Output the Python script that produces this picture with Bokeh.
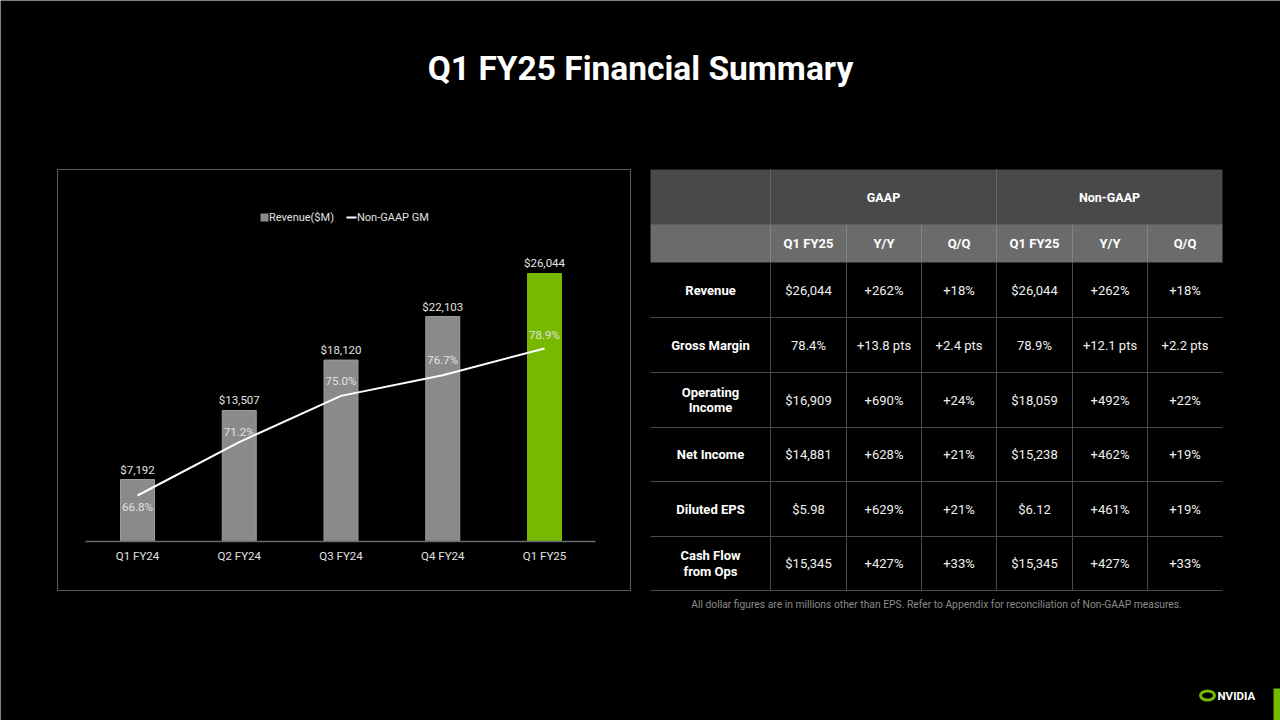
from bokeh.plotting import figure
from bokeh.models import Range1d
from bokeh.core.properties import value
from bokeh.embed import file_html
from bokeh.resources import INLINE

# ---------------- data ----------------
quarters = ["Q1 FY24", "Q2 FY24", "Q3 FY24", "Q4 FY24", "Q1 FY25"]
revenue = [7192, 13507, 18120, 22103, 26044]
non_gaap_gm = [66.8, 71.2, 75.0, 76.7, 78.9]

title = "Q1 FY25 Financial Summary"
legend_labels = ["Revenue($M)", "Non-GAAP GM"]

group_headers = ["GAAP", "Non-GAAP"]
sub_headers = ["Q1 FY25", "Y/Y", "Q/Q", "Q1 FY25", "Y/Y", "Q/Q"]
row_labels = ["Revenue", "Gross Margin", "Operating\nIncome", "Net Income", "Diluted EPS", "Cash Flow\nfrom Ops"]
gaap_value = ["$26,044", "78.4%", "$16,909", "$14,881", "$5.98", "$15,345"]
gaap_yy = ["+262%", "+13.8 pts", "+690%", "+628%", "+629%", "+427%"]
gaap_qq = ["+18%", "+2.4 pts", "+24%", "+21%", "+21%", "+33%"]
ngaap_value = ["$26,044", "78.9%", "$18,059", "$15,238", "$6.12", "$15,345"]
ngaap_yy = ["+262%", "+12.1 pts", "+492%", "+462%", "+461%", "+427%"]
ngaap_qq = ["+18%", "+2.2 pts", "+22%", "+19%", "+19%", "+33%"]
footnote = "All dollar figures are in millions other than EPS. Refer to Appendix for reconciliation of Non-GAAP measures."

# ---------------- styles ----------------
W, H = 1280, 720
FONT = value("Roboto")
GREEN = "#76b900"
BAR_GRAY = "#8a8a8a"
LABEL = "#e2e2e2"

p = figure(width=W, height=H, x_range=Range1d(0, W), y_range=Range1d(H, 0),
           output_backend="svg", toolbar_location=None, min_border=0,
           x_axis_type=None, y_axis_type=None)
p.background_fill_color = "black"
p.border_fill_color = "black"
p.outline_line_color = None
p.xgrid.visible = False
p.ygrid.visible = False

# title
p.text(x=[640], y=[68], text=[title], text_font=FONT, text_font_style="bold",
       text_font_size=value("33.5px"), text_color="white", text_align="center",
       text_baseline="middle")

# ---------------- chart panel ----------------
p.quad(left=[57], right=[630], top=[169], bottom=[590], fill_color=None,
       line_color="#5a5a5a", line_width=1)

# scales for the bar chart (pixel layout -> data ranges)
X0_PX, STEP_PX = 137, 101.75
ZERO_PX, PX_PER_UNIT = 557.6, 0.010928
AXIS_PX = 541
GM_REF, GM_REF_PX, PX_PER_PT = 66.8, 495, 12.149

p.extra_x_ranges = {"q": Range1d(-X0_PX / STEP_PX, (W - X0_PX) / STEP_PX)}
p.extra_y_ranges = {
    "rev": Range1d((ZERO_PX - H) / PX_PER_UNIT, ZERO_PX / PX_PER_UNIT),
    "gm": Range1d(GM_REF - (H - GM_REF_PX) / PX_PER_PT, GM_REF + GM_REF_PX / PX_PER_PT),
}
axis_floor = (ZERO_PX - AXIS_PX) / PX_PER_UNIT

xs = list(range(len(quarters)))
colors = [BAR_GRAY] * (len(quarters) - 1) + [GREEN]
lines = ["#9c9c9c"] * (len(quarters) - 1) + [GREEN]
p.vbar(x=xs, top=revenue, bottom=axis_floor, width=34 / STEP_PX, fill_color=colors,
       line_color=lines, line_width=1, x_range_name="q", y_range_name="rev")

# axis line
p.segment(x0=[85], y0=[AXIS_PX], x1=[595], y1=[AXIS_PX], line_color="#6a6a6a", line_width=1.5)

# category labels
p.text(x=xs, y=[axis_floor] * len(xs), text=quarters, y_offset=14, text_font=FONT,
       text_font_size=value("11.5px"), text_color=LABEL, text_align="center",
       text_baseline="middle", x_range_name="q", y_range_name="rev")

# revenue labels
p.text(x=xs, y=revenue, text=[f"${v:,}" for v in revenue], y_offset=-10, text_font=FONT,
       text_font_size=value("11.5px"), text_color=LABEL, text_align="center",
       text_baseline="middle", x_range_name="q", y_range_name="rev")

# GM line
p.line(x=xs, y=non_gaap_gm, line_color="white", line_width=2,
       x_range_name="q", y_range_name="gm")
gm_offsets = [11, -10, -15, -15, -13]
p.text(x=xs, y=non_gaap_gm, text=[f"{v:.1f}%" for v in non_gaap_gm], y_offset=gm_offsets,
       text_font=FONT, text_font_size=value("11.5px"), text_color=LABEL, text_align="center",
       text_baseline="middle", x_range_name="q", y_range_name="gm")

# legend
p.quad(left=[260], right=[268], top=[213], bottom=[221], fill_color=BAR_GRAY, line_color=None)
p.text(x=[268.5], y=[217], text=[legend_labels[0]], text_font=FONT,
       text_font_size=value("11px"), text_color=LABEL, text_align="left", text_baseline="middle")
p.segment(x0=[346], y0=[217], x1=[356], y1=[217], line_color="white", line_width=2)
p.text(x=[356.5], y=[217], text=[legend_labels[1]], text_font=FONT,
       text_font_size=value("11px"), text_color=LABEL, text_align="left", text_baseline="middle")

# ---------------- table ----------------
col_edges = [650, 770, 846, 921, 996, 1072, 1147, 1222]
row_edges = [169, 224, 262, 317, 372, 427, 481, 536, 590]

# header backgrounds
p.quad(left=[col_edges[0]], right=[col_edges[-1]], top=[row_edges[0]], bottom=[row_edges[1]],
       fill_color="#494949", line_color=None)
p.quad(left=[col_edges[0]], right=[col_edges[-1]], top=[row_edges[1]], bottom=[row_edges[2]],
       fill_color="#6b6b6b", line_color=None)

# header1 separators
p.segment(x0=[770, 996], y0=[169, 169], x1=[770, 996], y1=[224, 224], line_color="#646464", line_width=1)
# header2 separators
p.segment(x0=col_edges[1:-1], y0=[224] * 6, x1=col_edges[1:-1], y1=[262] * 6,
          line_color="#848484", line_width=1)
p.segment(x0=[650], y0=[224], x1=[1222], y1=[224], line_color="#5c5c5c", line_width=1)
# body grid
p.segment(x0=col_edges[1:-1], y0=[262] * 6, x1=col_edges[1:-1], y1=[590] * 6,
          line_color="#4a4a4a", line_width=1)
p.segment(x0=[650] * 6, y0=row_edges[3:], x1=[1222] * 6, y1=row_edges[3:],
          line_color="#4a4a4a", line_width=1)

# header texts
p.text(x=[(770 + 996) / 2, (996 + 1222) / 2], y=[197, 197], text=group_headers, text_font=FONT,
       text_font_style="bold", text_font_size=value("12.5px"), text_color="white",
       text_align="center", text_baseline="middle")
sub_cx = [(col_edges[i] + col_edges[i + 1]) / 2 for i in range(1, 7)]
p.text(x=sub_cx, y=[243] * 6, text=sub_headers, text_font=FONT, text_font_style="bold",
       text_font_size=value("13px"), text_color="white", text_align="center",
       text_baseline="middle")

row_cy = [(row_edges[i] + row_edges[i + 1]) / 2 for i in range(2, 8)]
p.text(x=[(650 + 770) / 2] * 6, y=row_cy, text=row_labels, text_font=FONT,
       text_font_style="bold", text_font_size=value("13px"), text_color="white",
       text_align="center", text_baseline="middle", text_line_height=1.02)
for ci, col in enumerate([gaap_value, gaap_yy, gaap_qq, ngaap_value, ngaap_yy, ngaap_qq]):
    p.text(x=[sub_cx[ci]] * 6, y=row_cy, text=col, text_font=FONT,
           text_font_size=value("13px"), text_color="#f0f0f0", text_align="center",
           text_baseline="middle")

p.text(x=[936], y=[604], text=[footnote], text_font=FONT, text_font_size=value("10.3px"),
       text_color="#8a8a8a", text_align="center", text_baseline="middle")

# ---------------- logo ----------------
p.ellipse(x=[1207], y=[695], width=14, height=9, fill_color=None, line_color=GREEN, line_width=3)
p.text(x=[1217], y=[695.5], text=["NVIDIA"], text_font=FONT, text_font_style="bold",
       text_font_size=value("11.5px"), text_color="white", text_align="left",
       text_baseline="middle")
p.quad(left=[1273], right=[1280], top=[688], bottom=[720], fill_color=GREEN, line_color=None)

open("out.html", "w").write(file_html(p, INLINE))
